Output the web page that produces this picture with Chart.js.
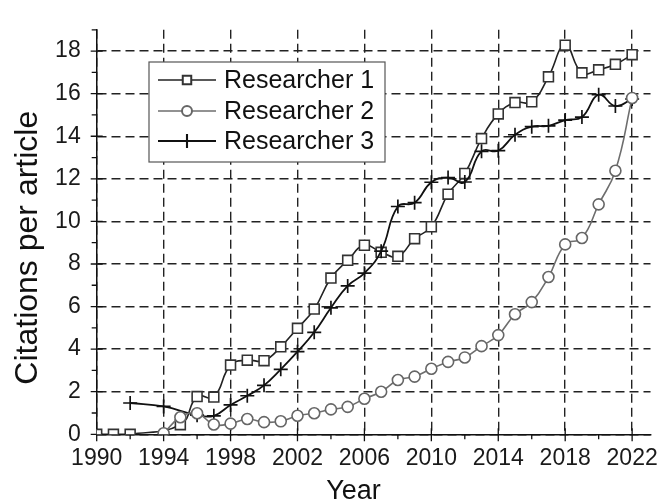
<!DOCTYPE html>
<html><head><meta charset="utf-8">
<script src="https://cdn.jsdelivr.net/npm/chart.js@4/dist/chart.umd.min.js"></script>
<style>html,body{margin:0;padding:0;background:#fff}#wrap{width:669px;height:502px}</style>
</head><body><div id="wrap"><canvas id="c" width="669" height="502"></canvas></div>
<script>
const seriesNames = ['Researcher 1', 'Researcher 2', 'Researcher 3'];
const xTitle = 'Year';
const yTitle = 'Citations per article';
const years1 = [1990,1991,1992,1995,1996,1997,1998,1999,2000,2001,2002,2003,2004,2005,2006,2007,2008,2009,2010,2011,2012,2013,2014,2015,2016,2017,2018,2019,2020,2021,2022];
const values1 = [0,0,0,0.45,1.77,1.75,3.25,3.48,3.46,4.11,4.98,5.88,7.34,8.17,8.88,8.55,8.36,9.19,9.75,11.28,12.25,13.89,15.05,15.58,15.62,16.79,18.28,16.98,17.12,17.38,17.83];
const years2 = [1994,1995,1996,1997,1998,1999,2000,2001,2002,2003,2004,2005,2006,2007,2008,2009,2010,2011,2012,2013,2014,2015,2016,2017,2018,2019,2020,2021,2022];
const values2 = [0.05,0.8,0.99,0.46,0.5,0.72,0.57,0.61,0.87,0.99,1.17,1.29,1.67,2.0,2.55,2.71,3.08,3.4,3.61,4.14,4.66,5.64,6.21,7.39,8.92,9.22,10.8,12.38,15.8];
const years3 = [1992,1994,1996,1997,1998,1999,2000,2001,2002,2003,2004,2005,2006,2007,2008,2009,2010,2011,2012,2013,2014,2015,2016,2017,2018,2019,2020,2021,2022];
const values3 = [1.47,1.31,0.9,0.87,1.38,1.81,2.3,3.05,3.88,4.79,5.94,6.97,7.57,8.6,10.7,10.88,11.84,12.06,11.85,13.29,13.32,14.07,14.45,14.49,14.76,14.9,15.95,15.42,15.75];
const xTickYears = [1990,1994,1998,2002,2006,2010,2014,2018,2022];
const yTickValues = [0,2,4,6,8,10,12,14,16,18];

const pts = (xs, ys) => xs.map((x, i) => ({x: x, y: ys[i]}));
const FONT = "'Liberation Sans', Arial, sans-serif";

const tickPlugin = {
  id: 'tickMarks',
  beforeDatasetsDraw(chart) {
    const {ctx, scales: {x, y}} = chart;
    const x0 = x.getPixelForValue(1990), y0 = y.getPixelForValue(0);
    ctx.save();
    ctx.strokeStyle = '#111'; ctx.lineWidth = 1.3; ctx.setLineDash([]);
    ctx.beginPath();
    for (let v = 0; v <= 19; v++) {
      const py = y.getPixelForValue(v);
      if (v % 2 === 0) { ctx.moveTo(x0 - 6, py); ctx.lineTo(x0 + 6, py); }
      else { ctx.moveTo(x0 - 5, py); ctx.lineTo(x0, py); }
    }
    for (let yr = 1990; yr <= 2023; yr += 2) {
      const px = x.getPixelForValue(yr);
      if ((yr - 1990) % 4 === 0) { ctx.moveTo(px, y0 - 6); ctx.lineTo(px, y0 + 7); }
      else { ctx.moveTo(px, y0); ctx.lineTo(px, y0 + 5); }
    }
    ctx.stroke();
    ctx.restore();
  }
};

const titlePlugin = {
  id: 'axisTitles',
  afterDraw(chart) {
    const {ctx, scales: {x, y}} = chart;
    ctx.save();
    ctx.fillStyle = '#111';
    ctx.textAlign = 'center'; ctx.textBaseline = 'alphabetic';
    ctx.font = '27px ' + FONT;
    ctx.fillText(xTitle, (x.getPixelForValue(1990) + x.getPixelForValue(2022)) / 2 - 11, 499);
    ctx.translate(36.5, (y.getPixelForValue(0) + y.getPixelForValue(18)) / 2 + 5);
    ctx.rotate(-Math.PI / 2);
    ctx.font = '32px ' + FONT;
    ctx.fillText(yTitle, 0, 0);
    ctx.restore();
  }
};

const legendPlugin = {
  id: 'boxLegend',
  afterDraw(chart) {
    const {ctx} = chart;
    const bx = 149, by = 62, bw = 236, bh = 100;
    ctx.save();
    ctx.fillStyle = '#fff';
    ctx.fillRect(bx, by, bw, bh);
    ctx.strokeStyle = '#555'; ctx.lineWidth = 1.2; ctx.setLineDash([]);
    ctx.strokeRect(bx, by, bw, bh);
    const rows = [80, 111, 141];
    chart.data.datasets.forEach((ds, i) => {
      const ry = rows[i];
      ctx.strokeStyle = ds.borderColor; ctx.lineWidth = ds.borderWidth;
      ctx.beginPath(); ctx.moveTo(158, ry); ctx.lineTo(216, ry); ctx.stroke();
      ctx.fillStyle = ds.pointBackgroundColor;
      ctx.strokeStyle = ds.pointBorderColor;
      ctx.lineWidth = ds.pointBorderWidth + 0.4;
      Chart.helpers.drawPoint(ctx, {pointStyle: ds.pointStyle, radius: ds.legendRadius, rotation: 0, borderWidth: ds.pointBorderWidth}, 187, ry);
      ctx.fillStyle = '#111';
      ctx.font = '25px ' + FONT;
      ctx.textBaseline = 'middle'; ctx.textAlign = 'left';
      ctx.fillText(ds.label, 224, ry + 1);
    });
    ctx.restore();
  }
};

new Chart(document.getElementById('c'), {
  type: 'line',
  data: {
    datasets: [
      {label: seriesNames[0], data: pts(years1, values1), order: 2,
       borderColor: '#222', borderWidth: 1.6, tension: 0.45,
       pointStyle: 'rect', pointRadius: 7, legendRadius: 6, pointBorderWidth: 1.6,
       pointBorderColor: '#333', pointBackgroundColor: '#fff'},
      {label: seriesNames[1], data: pts(years2, values2), order: 0,
       borderColor: '#6e6e6e', borderWidth: 1.6, tension: 0.45,
       pointStyle: 'circle', pointRadius: 5.5, legendRadius: 5, pointBorderWidth: 1.6,
       pointBorderColor: '#666', pointBackgroundColor: '#fff'},
      {label: seriesNames[2], data: pts(years3, values3), order: 1,
       borderColor: '#111', borderWidth: 1.8, tension: 0.45,
       pointStyle: 'cross', pointRadius: 7, legendRadius: 7, pointBorderWidth: 1.7,
       pointBorderColor: '#111', pointBackgroundColor: '#fff'}
    ]
  },
  options: {
    responsive: false,
    animation: false,
    devicePixelRatio: 1,
    layout: {padding: {top: 13.3, right: 7.3, left: 0, bottom: 0}},
    plugins: {legend: {display: false}, tooltip: {enabled: false}},
    scales: {
      x: {
        type: 'linear', min: 1990, max: 2023.1,
        afterBuildTicks: s => { s.ticks = xTickYears.map(v => ({value: v})); },
        afterFit: s => { s.height = 67.7; },
        ticks: {font: {family: FONT, size: 23}, color: '#1a1a1a', padding: 11, maxRotation: 0, autoSkip: false,
                callback: v => String(v)},
        grid: {color: '#222', lineWidth: 1.4, drawTicks: false},
        border: {display: true, color: '#111', width: 1.5, dash: [9, 5]},
        title: {display: false}
      },
      y: {
        min: 0, max: 19,
        afterBuildTicks: s => { s.ticks = yTickValues.map(v => ({value: v})); },
        afterFit: s => { s.width = 96.7; },
        ticks: {font: {family: FONT, size: 23}, color: '#1a1a1a', padding: 16, callback: v => String(v)},
        grid: {color: '#222', lineWidth: 1.4, drawTicks: false},
        border: {display: true, color: '#111', width: 1.5, dash: [9, 5]},
        title: {display: false}
      }
    }
  },
  plugins: [tickPlugin, legendPlugin, titlePlugin]
});
</script>
</body></html>
